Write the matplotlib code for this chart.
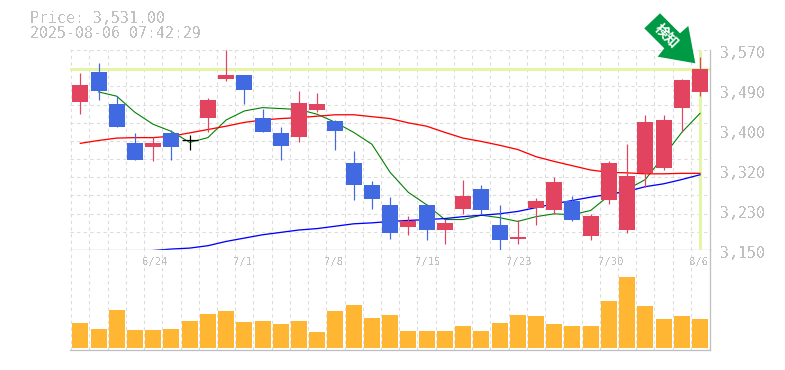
# -*- coding: utf-8 -*-
import numpy as np
import matplotlib
matplotlib.use('Agg')
import matplotlib.pyplot as plt
from matplotlib.patches import Polygon

W, H = 785, 370

opens = [3461, 3523, 3456, 3374, 3367, 3395, 3381, 3428, 3510, 3517, 3428, 3395, 3388, 3445, 3420, 3332, 3287, 3245,
         3199, 3245, 3191, 3237, 3279, 3203, 3174, 3239, 3233, 3252, 3180, 3256, 3191, 3311, 3323, 3449, 3481]
closes = [3496, 3483, 3409, 3340, 3374, 3367, 3381, 3464, 3517, 3485, 3397, 3369, 3458, 3456, 3399, 3287, 3258, 3186,
          3210, 3193, 3207, 3264, 3233, 3172, 3178, 3252, 3292, 3214, 3222, 3332, 3306, 3418, 3424, 3506, 3531]
highs = [3521, 3542, 3473, 3395, 3388, 3401, 3391, 3470, 3571, 3517, 3447, 3409, 3483, 3479, 3422, 3357, 3294, 3262,
         3222, 3247, 3216, 3296, 3287, 3245, 3212, 3260, 3304, 3264, 3226, 3336, 3372, 3433, 3433, 3510, 3555]
lows = [3435, 3466, 3409, 3340, 3336, 3338, 3361, 3397, 3504, 3456, 3397, 3340, 3376, 3439, 3359, 3254, 3237, 3174,
        3182, 3172, 3163, 3226, 3226, 3150, 3163, 3203, 3226, 3210, 3172, 3247, 3186, 3283, 3317, 3397, 3473]
volume = [25, 19, 38, 18, 18, 19, 27, 34, 37, 26, 27, 24, 27, 16, 37, 43, 30, 33,
          17, 17, 17, 22, 17, 25, 33, 32, 24, 22, 22, 47, 71, 42, 29, 32, 29]

ma_short = [3482, 3473, 3439, 3414, 3399, 3376, 3386, 3423, 3442, 3449, 3447, 3445, 3435, 3418, 3397, 3372, 3313,
            3271, 3245, 3214, 3214, 3223, 3218, 3210, 3220, 3226, 3224, 3233, 3264, 3277, 3298, 3347, 3397, 3437]
ma_mid = [3374, 3380, 3385, 3386, 3386, 3389, 3396, 3403, 3410, 3418, 3423, 3426, 3428, 3431, 3434, 3434, 3430, 3426,
          3417, 3410, 3397, 3385, 3378, 3370, 3361, 3346, 3336, 3327, 3318, 3313, 3312, 3310, 3310, 3311, 3311]
ma_long = [3149, 3152, 3154, 3159, 3168, 3175, 3182, 3187, 3192, 3195, 3200, 3205, 3207, 3210, 3212, 3214,
           3216, 3220, 3223, 3226, 3231, 3239, 3247, 3254, 3261, 3267, 3273, 3283, 3289, 3298, 3308]

date_idx = [4, 9, 14, 19, 24, 29, 34]
date_labels = ['6/24', '7/1', '7/8', '7/15', '7/23', '7/30', '8/6']
price_ticks = [3150, 3234, 3318, 3402, 3486, 3570]
price_labels = ['3,150', '3,230', '3,320', '3,400', '3,490', '3,570']

plt.rcParams['font.family'] = ['DejaVu Sans Mono', 'DejaVu Sans']
plt.rcParams['text.antialiased'] = False

RED = '#e2435f'
BLUE = '#4169e1'
GRID = '#dcdcdc'
FRAME = '#c0c0c0'
TEXT = '#c0c0c0'
HILITE = '#e4f5a8'
PX = 0.72  # one pixel in points at dpi 100

fig = plt.figure(figsize=(W/100., H/100.), dpi=100)
left, right = 70.0, 710.3
top, mid, bottom = 50.0, 250.0, 350.0
ax = fig.add_axes([left/W, 1-mid/H, (right-left)/W, (mid-top)/H])
ax_vol = fig.add_axes([left/W, 1-bottom/H, (right-left)/W, (bottom-mid)/H])

xlim = (-0.565, 34.565)
x = np.arange(len(closes))

for a in (ax, ax_vol):
    a.set_xlim(xlim)
    a.set_xticks(np.arange(0, len(closes)) - 0.5)
    a.tick_params(length=0, labelbottom=False, labelleft=False)
    a.grid(axis='x', color=GRID, lw=PX*1.1, ls=(0, (3, 3)), zorder=0)
    a.set_axisbelow(True)
    for s in ('top', 'left'):
        a.spines[s].set_visible(False)
    for s in ('right', 'bottom'):
        a.spines[s].set_color(FRAME)
        a.spines[s].set_linewidth(PX*1.3)

# price panel
ax.set_ylim(3150, 3570)
ax.set_yticks(np.linspace(3150, 3570, 12))
ax.grid(axis='y', color=GRID, lw=PX*1.1, ls=(0, (3, 3)), zorder=0)

ax.axhline(closes[-1], color=HILITE, lw=PX*3, zorder=1)
ax.vlines(x[-1], 3152, 3570, color=HILITE, lw=PX*3, zorder=1)

ax.plot(x[1:], ma_short, color='#008000', lw=PX*1.1, zorder=2)
ax.plot(x, ma_mid, color='#ff0000', lw=PX*1.3, zorder=2)
ax.plot(x[4:], ma_long, color='#0000ff', lw=PX*1.3, zorder=2)

body_w = 16/18.226
for i in x:
    o, c = opens[i], closes[i]
    col = RED if c > o else (BLUE if c < o else 'black')
    ax.vlines(i, lows[i], highs[i], color=col, lw=PX*1.2, zorder=3)
    if c == o:
        ax.hlines(c, i-body_w/2, i+body_w/2, color=col, lw=PX*1.2, zorder=3)
    else:
        ax.bar(i, abs(c-o), bottom=min(o, c), width=body_w, color=col, lw=0, zorder=4)

for p, lbl in zip(price_ticks, price_labels):
    ax.annotate(lbl, xy=(1, p), xycoords=ax.get_yaxis_transform(), xytext=(10, -3),
                textcoords='offset pixels', va='center', ha='left',
                fontsize=10.7, color=TEXT, annotation_clip=False)

# volume panel
ax_vol.set_ylim(-2, 98)
ax_vol.set_yticks([])
ax_vol.bar(x, volume, width=body_w, color='#ffb733', lw=0, zorder=3)
for i, lbl in zip(date_idx, date_labels):
    ax_vol.text(i-0.6, 0.88, lbl, transform=ax_vol.get_xaxis_transform(), ha='left', va='center',
                fontsize=7.6, color=TEXT)

# header
fig.text(30/W, 1-18.5/H, 'Price: 3,531.00', fontsize=10.7, color=TEXT, va='center', ha='left')
fig.text(30/W, 1-33/H, '2025-08-06 07:42:29', fontsize=10.7, color=TEXT, va='center', ha='left')

# arrow badge
arrow = [(660, 13.3), (644.3, 28.3), (664.3, 48.3), (657.7, 56.7), (695.3, 63.3), (688.3, 26), (680, 33.3)]
fig.add_artist(Polygon([(px/W, 1-py/H) for px, py in arrow], closed=True, transform=fig.transFigure,
                       facecolor='#009944', edgecolor='none', zorder=10))
fig.text(666.7/W, 1-35.7/H, u'検知', family=['Noto Sans CJK JP', 'DejaVu Sans'], fontsize=10, fontweight='bold',
         color='white', rotation=-45, rotation_mode='anchor', ha='center', va='center', zorder=11,
         antialiased=True)

fig.savefig('out.png', dpi=100)
